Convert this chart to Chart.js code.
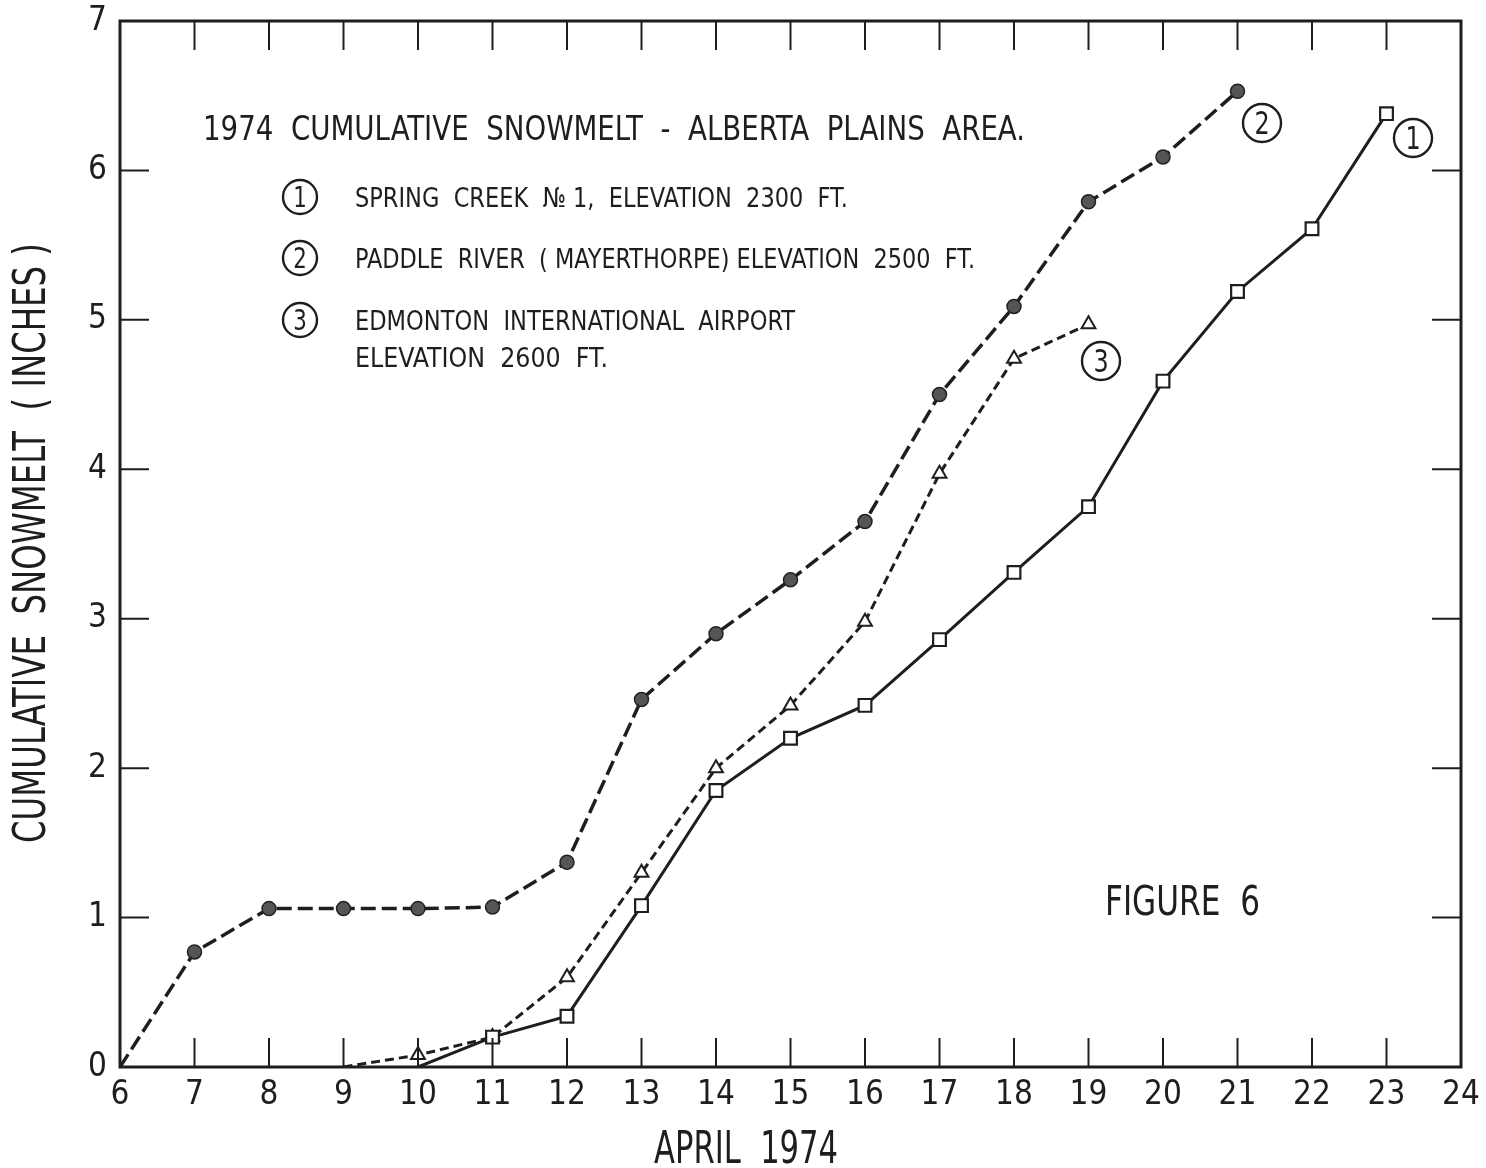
<!DOCTYPE html>
<html>
<head>
<meta charset="utf-8">
<script src="https://cdn.jsdelivr.net/npm/chart.js@4.4.1/dist/chart.umd.min.js"></script>
<style>
  html, body { margin: 0; padding: 0; background: #ffffff; }
  #wrap { width: 1486px; height: 1168px; }
</style>
</head>
<body>
<div id="wrap"><canvas id="c" width="1486" height="1168"></canvas></div>
<script>
// ---- data ----
const days = [6, 7, 8, 9, 10, 11, 12, 13, 14, 15, 16, 17, 18, 19, 20, 21, 22, 23];
const springCreek = [null, null, null, null, 0, 0.20, 0.34, 1.08, 1.85, 2.20, 2.42, 2.86, 3.31, 3.75, 4.59, 5.19, 5.61, 6.38];
const paddleRiver = [0, 0.77, 1.06, 1.06, 1.06, 1.07, 1.37, 2.46, 2.90, 3.26, 3.65, 4.50, 5.09, 5.79, 6.09, 6.53, null, null];
const edmonton = [null, null, null, 0, 0.08, 0.20, 0.60, 1.30, 2.00, 2.42, 2.98, 3.97, 4.74, 4.97, null, null, null, null];
const xTickValues = [6, 7, 8, 9, 10, 11, 12, 13, 14, 15, 16, 17, 18, 19, 20, 21, 22, 23, 24];
const xTickLabels = ['6', '7', '8', '9', '10', '11', '12', '13', '14', '15', '16', '17', '18', '19', '20', '21', '22', '23', '24'];
const yTickValues = [0, 1, 2, 3, 4, 5, 6, 7];
const yTickLabels = ['0', '1', '2', '3', '4', '5', '6', '7'];
const seriesNames = ['SPRING  CREEK  № 1,  ELEVATION  2300  FT.', 'PADDLE  RIVER  ( MAYERTHORPE) ELEVATION  2500  FT.', 'EDMONTON  INTERNATIONAL  AIRPORT', 'ELEVATION  2600  FT.'];
const chartTitle = '1974  CUMULATIVE  SNOWMELT  -  ALBERTA  PLAINS  AREA.';
const xTitle = 'APRIL  1974';
const yTitle = 'CUMULATIVE  SNOWMELT  ( INCHES )';
const figureLabel = 'FIGURE  6';

const INK = '#1e1e1e';
const FONT = "'DejaVu Sans Condensed', 'DejaVu Sans', sans-serif";
const TICKFONT = "'Liberation Sans Narrow', 'DejaVu Sans Condensed', sans-serif";

function toPoints(vals) {
  const out = [];
  vals.forEach((v, i) => { if (v !== null) out.push({ x: days[i], y: v }); });
  return out;
}
const hideZero = (r) => (c) => (c.raw && c.raw.y === 0 ? 0 : r);

// text fitted to a given left edge, width and cap height
function fitText(ctx, text, left, cy, width, cap) {
  const size = cap / 0.73;
  ctx.font = `${size}px ${FONT}`;
  const w = ctx.measureText(text).width;
  ctx.save();
  ctx.translate(left, cy);
  ctx.scale(width / w, 1);
  ctx.textAlign = 'left';
  ctx.textBaseline = 'alphabetic';
  ctx.fillText(text, 0, cap / 2);
  ctx.restore();
}
function circledDigit(ctx, d, cx, cy, r) {
  ctx.save();
  ctx.lineWidth = 2.4;
  ctx.strokeStyle = INK;
  ctx.beginPath();
  ctx.arc(cx, cy, r, 0, Math.PI * 2);
  ctx.stroke();
  const cap = r * 1.2;
  ctx.font = `${cap / 0.73}px ${FONT}`;
  ctx.textAlign = 'center';
  ctx.textBaseline = 'alphabetic';
  ctx.fillStyle = INK;
  ctx.save();
  ctx.translate(cx, cy);
  ctx.scale(0.85, 1);
  ctx.fillText(d, 0, cap / 2);
  ctx.restore();
  ctx.restore();
}

const decor = {
  id: 'decor',
  afterDraw(chart) {
    const { ctx, chartArea: a, scales: { x, y } } = chart;
    ctx.save();
    ctx.strokeStyle = INK;
    ctx.fillStyle = INK;
    // frame
    ctx.lineWidth = 3;
    ctx.strokeRect(a.left, a.top, a.right - a.left, a.bottom - a.top);
    // inward ticks
    ctx.lineWidth = 2;
    const TL = 29;
    ctx.beginPath();
    xTickValues.forEach(v => {
      if (v === x.min || v === x.max) return;
      const px = x.getPixelForValue(v);
      ctx.moveTo(px, a.top); ctx.lineTo(px, a.top + TL);
      ctx.moveTo(px, a.bottom); ctx.lineTo(px, a.bottom - TL);
    });
    yTickValues.forEach(v => {
      if (v === y.min || v === y.max) return;
      const py = y.getPixelForValue(v);
      ctx.moveTo(a.left, py); ctx.lineTo(a.left + TL, py);
      ctx.moveTo(a.right, py); ctx.lineTo(a.right - TL, py);
    });
    ctx.stroke();

    // titles and notes
    fitText(ctx, chartTitle, 203, 128, 822, 24);
    circledDigit(ctx, '1', 300, 197, 17);
    circledDigit(ctx, '2', 300, 258, 17);
    circledDigit(ctx, '3', 300, 320, 17);
    fitText(ctx, seriesNames[0], 355, 197, 493, 20);
    fitText(ctx, seriesNames[1], 355, 258, 620, 20);
    fitText(ctx, seriesNames[2], 355, 320, 440, 20);
    fitText(ctx, seriesNames[3], 355, 357, 253, 20);
    fitText(ctx, figureLabel, 1105, 900, 155, 30);

    // series labels near line ends
    circledDigit(ctx, '2', 1262, 123, 19);
    circledDigit(ctx, '1', 1413, 138, 19);
    circledDigit(ctx, '3', 1101, 361, 19);

    // axis titles
    fitText(ctx, xTitle, 654, 1146, 184, 33);
    ctx.save();
    ctx.translate(29, 543);
    ctx.rotate(-Math.PI / 2);
    fitText(ctx, yTitle, -300, 0, 600, 32);
    ctx.restore();
    ctx.restore();
  }
};

new Chart(document.getElementById('c'), {
  type: 'line',
  data: {
    datasets: [
      {
        label: 'SPRING CREEK № 1',
        data: toPoints(springCreek),
        borderColor: INK,
        borderWidth: 3,
        pointStyle: 'rect',
        pointRadius: hideZero(9),
        pointBorderWidth: 2.2,
        pointBorderColor: INK,
        pointBackgroundColor: '#ffffff',
        tension: 0
      },
      {
        label: 'PADDLE RIVER (MAYERTHORPE)',
        data: toPoints(paddleRiver),
        borderColor: INK,
        borderWidth: 3.5,
        borderDash: [15, 6],
        pointStyle: 'circle',
        pointRadius: hideZero(7),
        pointBorderWidth: 1.5,
        pointBorderColor: '#222222',
        pointBackgroundColor: '#555555',
        tension: 0
      },
      {
        label: 'EDMONTON INTERNATIONAL AIRPORT',
        data: toPoints(edmonton),
        borderColor: INK,
        borderWidth: 3,
        borderDash: [9, 5],
        pointStyle: 'triangle',
        pointRadius: hideZero(8),
        pointBorderWidth: 2,
        pointBorderColor: INK,
        pointBackgroundColor: '#ffffff',
        tension: 0
      }
    ]
  },
  options: {
    responsive: false,
    animation: false,
    devicePixelRatio: 1,
    layout: { padding: { left: 0, right: 25, top: 21, bottom: 0 } },
    plugins: { legend: { display: false }, tooltip: { enabled: false }, title: { display: false } },
    scales: {
      x: {
        type: 'linear',
        min: 6, max: 24,
        afterBuildTicks: s => { s.ticks = xTickValues.map(v => ({ value: v })); },
        afterFit: s => { s.height = 101; s.paddingLeft = 0; s.paddingRight = 0; },
        grid: { display: false, drawTicks: false },
        border: { display: false },
        ticks: {
          autoSkip: false, maxRotation: 0, padding: 12, color: INK,
          font: { family: TICKFONT, size: 33, lineHeight: 1 },
          callback: v => xTickLabels[xTickValues.indexOf(v)]
        }
      },
      y: {
        type: 'linear',
        min: 0, max: 7,
        afterBuildTicks: s => { s.ticks = yTickValues.map(v => ({ value: v })); },
        afterFit: s => { s.width = 120; s.paddingTop = 0; s.paddingBottom = 0; },
        grid: { display: false, drawTicks: false },
        border: { display: false },
        ticks: {
          autoSkip: false, padding: 13, color: INK,
          font: { family: TICKFONT, size: 33, lineHeight: 1 },
          callback: v => yTickLabels[yTickValues.indexOf(v)]
        }
      }
    }
  },
  plugins: [decor]
});
</script>
</body>
</html>
